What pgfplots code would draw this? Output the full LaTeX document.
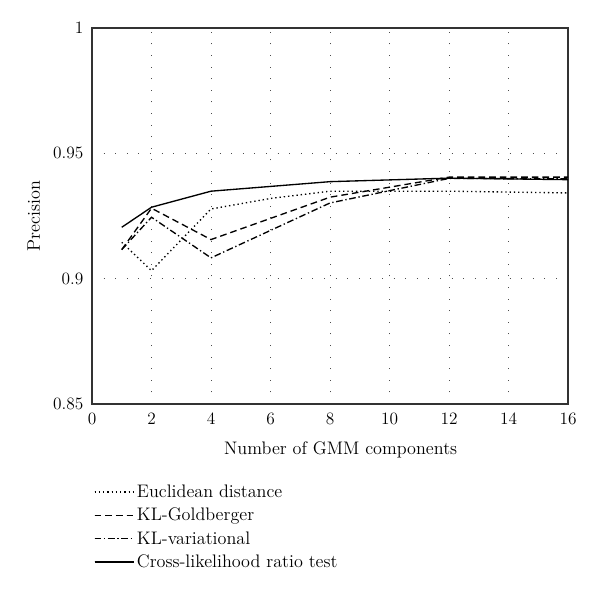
\documentclass[border=0pt]{standalone}
\usepackage{pgfplots}
\pgfplotsset{compat=1.18}
\begin{document}
\begin{tikzpicture}
\begin{axis}[
  scale only axis,
  width=357pt, height=282pt,
  xmin=0, xmax=16, ymin=0.85, ymax=1,
  xtick={0,2,...,16}, ytick={0.85,0.9,0.95,1},
  yticklabels={0.85,0.9,0.95,1},
  major tick length=0pt,
  /pgf/number format/assume math mode=true,
  ticklabel style={font=\fontsize{13}{15}\selectfont},
  yticklabel style={xshift=-3pt},
  xticklabel style={yshift=-3pt},
  label style={font=\fontsize{13.6}{16}\selectfont},
  xlabel={Number of GMM components},
  ylabel={Precision},
  ylabel style={yshift=3pt},
  xlabel style={yshift=-6pt, xshift=8pt},
  grid=major,
  major grid style={black!70, line width=0.6pt, dash pattern=on 0.7pt off 8pt},
  axis line style={black!80, line width=0.9pt},
  legend cell align=left,
  legend style={at={(-0.005,-0.2)}, anchor=north west, draw=none, font=\fontsize{13.6}{16}\selectfont, row sep=2.5pt},
  legend image code/.code={\draw[#1] (0cm,0cm) -- (0.92cm,0cm); \path (0cm,0cm) -- (1.03cm,0cm);},
  every axis plot/.append style={line width=1pt, black},
]
\addplot[dash pattern=on 1pt off 2.2pt] coordinates {(1,0.9145)(2,0.9032)(4,0.9278)(6,0.9320)(8,0.9349)(12,0.9349)(16,0.9342)};
\addlegendentry{Euclidean distance}
\addplot[dash pattern=on 5pt off 3pt] coordinates {(1,0.9116)(2,0.9281)(4,0.9156)(8,0.9325)(12,0.9405)(16,0.9405)};
\addlegendentry{KL-Goldberger}
\addplot[dash pattern=on 5pt off 2pt on 1pt off 2pt] coordinates {(1,0.9116)(2,0.9245)(4,0.9083)(8,0.9302)(12,0.9400)(16,0.9398)};
\addlegendentry{KL-variational}
\addplot[solid] coordinates {(1,0.9205)(2,0.9285)(4,0.9349)(8,0.9387)(12,0.9401)(16,0.9395)};
\addlegendentry{Cross-likelihood ratio test}
\coordinate (bl) at (rel axis cs:0,0);
\coordinate (tr) at (rel axis cs:1,1);
\end{axis}
\path[use as bounding box] ([xshift=-69pt,yshift=-138.75pt]bl) rectangle ([xshift=24pt,yshift=21pt]tr);
\end{tikzpicture}
\end{document}
